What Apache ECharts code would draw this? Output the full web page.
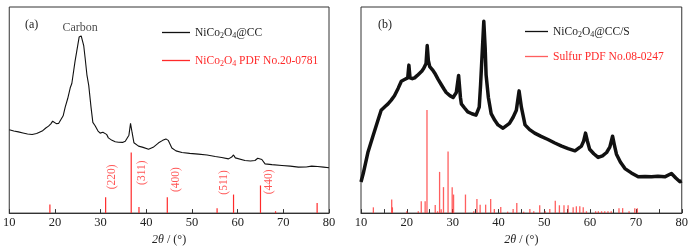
<!DOCTYPE html>
<html><head><meta charset="utf-8">
<script src="https://cdn.jsdelivr.net/npm/echarts@6/dist/echarts.min.js"></script>
<style>html,body{margin:0;padding:0;background:#fff}#c{width:691px;height:251px}</style>
</head><body><div id="c"></div>
<script>
// ---- Data (panel a) ----
const aX = [10,11,12,13,14,15,16,16.4,17.2,18,18.6,19.1,19.5,19.8,20.3,20.8,21.2,21.8,22.25,22.8,23.35,23.7,24.4,24.8,25.3,25.75,26.3,26.6,27,27.4,27.9,28.3,28.8,29.4,29.9,30.5,30.9,31.3,31.7,32.5,33.2,33.9,34.8,35.4,35.8,36.2,36.55,36.9,37.3,38.3,39.3,40.5,41.5,42.7,43.6,44.3,44.8,45.6,46.5,47.8,49.5,51.4,53.3,55.1,56.5,58,58.7,59.1,59.5,59.9,61.6,62.8,63.8,64.4,64.8,65.3,66,67.5,69.7,71.5,73.3,75,76.2,77.5,78.8,80];
const aY = [40.4,39.8,39.4,38.9,38.4,38.1,38.6,38.8,39.8,41.3,42.2,43.3,44.6,45.2,43.4,43.5,44.3,47.2,51.4,55.6,60.8,62.9,73.6,78.8,85.4,86.0,81.3,75.5,67.1,62.0,51.4,44.0,42.4,39.9,38.8,39.2,40.1,38.2,36.5,35.3,34.6,34.4,34.3,34.9,35.7,37.8,43.5,39.0,34.1,32.5,31.9,31.0,31.9,34.1,35.3,36.0,35.3,31.6,30.2,29.4,29.0,28.6,28.2,27.5,27.0,26.3,27.2,28.2,26.8,25.9,25.5,25.3,25.5,26.6,27.5,26.0,23.9,23.5,23.1,22.8,22.3,22.4,22.8,22.6,22.3,22.0];
const aRefX = [18.9,31.1,36.7,38.4,44.6,55.5,59.1,65.0,68.3,77.4];
const aRefY = [4.2,7.7,29.4,3.0,7.7,2.4,9.0,13.4,0.9,4.9];
const aPeakText = ['(220)','(311)','(400)','(511)','(440)'];
const aPeakX = [32.5,39.0,46.5,57.0,66.95];
const aPeakY = [17.6,19.6,16.3,14.9,15.2];
// ---- Data (panel b) ----
const bX = [10,10.5,11.5,12.6,13.7,14.4,15.2,15.9,16.6,17.3,18.1,18.8,19.5,20.2,20.45,20.7,21.2,21.7,22.3,22.8,23.3,23.7,24.2,24.45,24.7,25,25.6,26.1,26.8,27.5,28.1,28.6,29.4,30.1,30.8,31.3,31.7,31.9,32.6,33.3,34.2,35.1,35.8,36.1,36.5,36.8,37.1,37.3,37.8,38.4,39.2,39.9,41,42.4,43.2,43.9,44.5,45,45.8,46.8,47.9,49.3,50.8,52.3,53.8,55.2,56.7,58.1,58.6,59,59.4,59.9,60.8,61.75,62.7,63.6,64.3,64.9,65.3,65.75,66.6,67.6,69,70.5,72,73.4,74.8,76.3,77.75,78.7,79.6,80];
const bY = [15.1,19.3,29.4,37.3,45.1,49.9,51.6,53.0,54.8,56.9,60.5,64.0,64.8,65.6,71.8,65.6,65.2,65.6,66.8,67.9,69.0,70.3,72.6,81.3,74.0,71.1,69.5,67.9,65.0,62.4,60.2,58.5,57.0,56.1,58.5,66.8,56.1,53.0,51.0,49.1,48.2,47.5,51.4,62.4,80.0,93.1,80.0,67.1,56.1,48.3,45.0,42.8,41.2,43.5,46.5,49.9,59.3,51.4,42.8,40.5,38.8,37.2,35.7,34.0,32.5,31.3,30.2,32.5,35.0,38.8,35.0,31.0,28.8,27.0,27.8,29.4,32.0,37.3,33.0,28.6,24.8,21.6,19.5,17.6,17.8,17.6,17.9,17.6,19.2,17.0,15.2,15.6];
const bRefX = [12.7,16.7,16.85,20.0,22.5,23.15,24.0,24.4,26.2,26.7,27.15,27.5,28.0,29.0,29.9,30.2,32.8,34.6,35.3,36.0,37.2,38.3,39.1,40.5,42.0,43.2,44.0,45.5,46.85,47.7,49.0,50.2,51.2,52.4,53.3,54.3,55.2,56.3,57.0,57.75,58.5,59.2,61.2,61.8,62.5,63.2,63.9,64.6,66.3,67.1,68.5,69.75,70.3];
const bRefY = [2.8,6.6,2.8,0.9,0.9,5.8,5.8,50.0,3.9,0.9,20.0,1.9,12.6,29.9,12.6,9.0,9.0,0.9,6.9,4.1,4.1,6.9,2.0,3.0,0.7,2.0,4.9,0.7,2.0,0.9,3.8,0.9,2.0,6.0,3.8,3.8,3.8,2.8,3.3,3.3,2.8,0.9,0.9,0.9,0.9,0.9,0.9,0.9,2.4,2.4,0.9,2.4,2.4];
const xTicks = {min:10, max:80, interval:10};
const xName = '{i|2θ} / (°)';
const names = ['NiCo2O4@CC','NiCo2O4 PDF No.20-0781','NiCo2O4@CC/S','Sulfur PDF No.08-0247'];

const FF = '"Liberation Serif","DejaVu Serif",serif';
const TXT = '#222';
const RED = '#ff2a2a';
const zip = (xs, ys) => xs.map((x,i)=>[x, ys[i]]);

const chart = echarts.init(document.getElementById('c'), null, {renderer:'canvas'});
const subFmt = n => n.replace('Co2O4', 'Co{s|2}O{s|4}');
const richSub = {s:{fontFamily:FF, fontSize:8, lineHeight:15, verticalAlign:'bottom', padding:[5,0,0,0]}};
function legend(name, left, top, w, color){
  return {data:[{name, icon:'rect'}], left, top, orient:'vertical', itemWidth:w, itemHeight:1.3,
    formatter: subFmt, selectedMode:false,
    textStyle:{fontFamily:FF, fontSize:11.5, color, lineHeight:15, rich:{s:Object.assign({color}, richSub.s)}}};
}
function xAxis(i){
  return {gridIndex:i, type:'value', min:xTicks.min, max:xTicks.max, interval:xTicks.interval,
    axisLine:{show:true, lineStyle:{color:'#333', width:1}},
    axisTick:{show:true, inside:true, length:4, lineStyle:{color:'#333'}},
    minorTick: i===1 ? {show:true, splitNumber:2, length:4, lineStyle:{color:'#333'}} : {show:false},
    splitLine:{show:false},
    axisLabel:{fontFamily:FF, fontSize:12.5, color:TXT, margin:3},
    name:xName, nameLocation:'middle', nameGap:16,
    nameTextStyle:{fontFamily:FF, fontSize:12, color:TXT, rich:{i:{fontFamily:FF, fontSize:12, fontStyle:'italic', color:TXT}}}};
}
function yAxis(i){
  return {gridIndex:i, type:'value', min:0, max:100, axisLine:{show:false}, axisTick:{show:false},
    axisLabel:{show:false}, splitLine:{show:false}};
}
const annot = (xi, data, rotate, size) => ({type:'scatter', xAxisIndex:xi, yAxisIndex:xi, data, symbolSize:1,
  itemStyle:{color:'rgba(0,0,0,0)'}, silent:true, z:5,
  label:{show:true, position:'inside', rotate, formatter:p=>p.data[2], fontFamily:FF, fontSize:size,
    color: rotate ? RED : TXT}});

chart.setOption({
  animation:false,
  backgroundColor:'#fff',
  title:[
    {text:'(a)', left:20, top:14, textStyle:{fontFamily:FF, fontSize:12, fontWeight:'normal', color:TXT}},
    {text:'(b)', left:373, top:14, textStyle:{fontFamily:FF, fontSize:12, fontWeight:'normal', color:TXT}}
  ],
  legend:[
    legend(names[0], 157, 20, 28, TXT),
    legend(names[1], 157, 48, 28, RED),
    legend(names[2], 520, 19, 23, TXT),
    legend(names[3], 520, 44, 23, RED)
  ],
  grid:[
    {left:9, top:7, width:320, height:212, show:true, borderColor:'#333', borderWidth:1, backgroundColor:'transparent'},
    {left:361, top:7, width:321, height:212, show:true, borderColor:'#333', borderWidth:1, backgroundColor:'transparent'}
  ],
  xAxis:[xAxis(0), xAxis(1)],
  yAxis:[yAxis(0), yAxis(1)],
  series:[
    {name:names[0], type:'line', xAxisIndex:0, yAxisIndex:0, data:zip(aX,aY), showSymbol:false, symbol:'none',
      lineStyle:{color:'#111', width:1.1}, itemStyle:{color:'#111'}, z:3},
    {name:names[1], type:'bar', xAxisIndex:0, yAxisIndex:0, data:zip(aRefX,aRefY), barWidth:1.2,
      itemStyle:{color:RED}, z:2},
    {name:names[2], type:'line', xAxisIndex:1, yAxisIndex:1, data:zip(bX,bY), showSymbol:false, symbol:'none',
      lineStyle:{color:'#111', width:3.5, join:'round'}, itemStyle:{color:'#111'}, z:3},
    {name:names[3], type:'bar', xAxisIndex:1, yAxisIndex:1, data:zip(bRefX,bRefY), barWidth:1.3,
      itemStyle:{color:RED, opacity:0.75}, z:2},
    annot(0, aPeakX.map((x,i)=>[x, aPeakY[i], aPeakText[i]]), 90, 11.5),
    annot(0, [[25.5, 90, 'Carbon']], 0, 12)
  ]
});
</script></body></html>
